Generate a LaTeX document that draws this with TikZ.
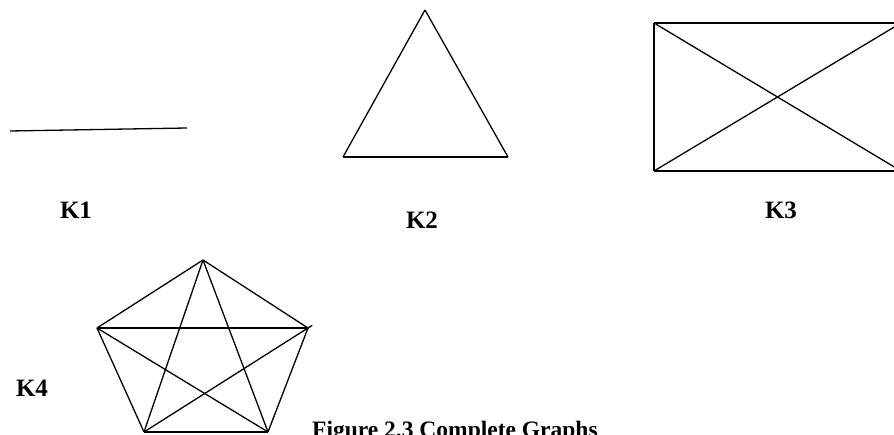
\documentclass[tikz,border=0pt]{standalone}
\usepackage{fontspec}
\setmainfont{Liberation Serif}
\usetikzlibrary{positioning, calc}

\begin{document}
\begin{tikzpicture}[
    x=1pt, y=-1pt,
    label/.style={inner sep=0pt, font=\fontsize{25}{28}\selectfont\bfseries},
    caption/.style={inner sep=0pt, anchor=base west, font=\fontsize{23.5}{27}\selectfont\bfseries},
    edge/.style={draw, line width=1.3pt}
]
    \useasboundingbox (0,0) rectangle (894,435);
    \clip (0,0) rectangle (894,435);

    % K1 ===========================
    \coordinate (a1) at (10, 131);
    \coordinate (a2) at (187, 128);
    \draw[edge] (a1) -- (a2);
    \node[label] (k1) at (76, 210) {K1};

    % K2 ===========================
    \coordinate (b1) at (425, 10);
    \coordinate (b2) at (343, 157);
    \coordinate (b3) at (508, 157);
    \draw[edge] (b1) -- (b2);
    \draw[edge] (b2) -- (b3);
    \draw[edge] (b3) -- (b1);
    \node[label] (k2) at (422, 220) {K2};

    % K3 ===========================
    \coordinate (c1) at (654, 23);
    \coordinate (c2) at (654, 171);
    \coordinate (c3) at (901, 171);
    \coordinate (c4) at (901, 23);
    \draw[edge] (c1) -- (c2);
    \draw[edge] (c2) -- (c3);
    \draw[edge] (c3) -- (c4);
    \draw[edge] (c4) -- (c1);
    \draw[edge] (c1) -- (c3);
    \draw[edge] (c2) -- (c4);
    \node[label] (k3) at (781, 210) {K3};

    % K4 ===========================
    \coordinate (d1) at (203, 260);
    \coordinate (d2) at (97, 328);
    \coordinate (d3) at (308, 328);
    \coordinate (d4) at (268, 432);
    \coordinate (d5) at (144, 432);

    \draw[edge] (d1) -- (d2);
    \draw[edge] (d1) -- (d3);
    \draw[edge] (d2) -- (d5);
    \draw[edge] (d3) -- (d4);
    \draw[edge] (d4) -- (d5);

    \draw[edge] (d1) -- (d4);
    \draw[edge] (d1) -- (d5);
    \draw[edge] (d2) -- (d3);
    \draw[edge] (d2) -- (d4);
    \draw[edge, shorten <=-5pt] (d3) -- (d5);
    \node[label] (k4) at (32, 388) {K4};

    % Caption ===========================
    \node[caption] (fig) at (312, 437) {Figure 2.3 Complete Graphs};

\end{tikzpicture}
\end{document}
